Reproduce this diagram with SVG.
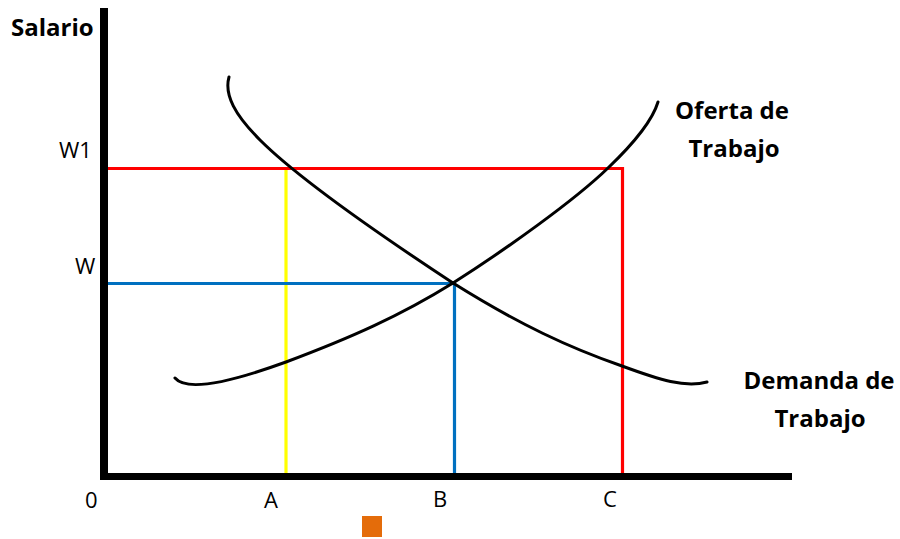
<svg xmlns="http://www.w3.org/2000/svg" width="900" height="539" viewBox="0 0 900 539">
<style>
.lbl{font-family:"Open Sans","Liberation Sans",sans-serif;font-size:22px;fill:#000}
.bold{font-family:"Open Sans","Liberation Sans",sans-serif;font-size:24px;font-weight:bold;fill:#000}
.curve{fill:none;stroke:#000;stroke-width:3;stroke-linecap:round}
.guide{fill:none;stroke-width:3.2}
</style>
<rect width="900" height="539" fill="#fff"/>
<g id="axes">
<rect x="100" y="8" width="8" height="472" fill="#000"/>
<rect x="100" y="473" width="692" height="7" fill="#000"/>
</g>
<g id="guides">
<path class="guide" stroke="#FF0000" d="M108,168.5 H622.5 V473"/>
<path class="guide" stroke="#FFFF00" d="M286,170 V473"/>
<path class="guide" stroke="#0070C0" d="M108,283.5 H454.5 V473"/>
</g>
<g id="supply">
<path class="curve" d="M175,378 C185,390 220,386 286,362 C350,338 400,316 453,283 C505,250 575,200 608,168 C630,147 652,122 658,102"/>
</g>
<g id="demand">
<path class="curve" d="M229,77 C224,95 235,115 260,140 C300,180 380,235 453,283 C520,325 570,348 622,366 C660,380 685,388 707,382"/>
</g>
<g id="labels">
<text class="bold" x="11" y="36">Salario</text>
<text class="lbl" x="59" y="158" font-size="25">W1</text>
<text class="lbl" x="75" y="274" font-size="24">W</text>
<text class="lbl" x="85" y="508">0</text>
<text class="lbl" x="264" y="508">A</text>
<text class="lbl" x="433" y="507">B</text>
<text class="lbl" x="603" y="507">C</text>
<text class="bold" x="732" y="119" text-anchor="middle">Oferta de</text>
<text class="bold" x="734" y="157" text-anchor="middle">Trabajo</text>
<text class="bold" x="819" y="389" text-anchor="middle">Demanda de</text>
<text class="bold" x="820" y="427" text-anchor="middle">Trabajo</text>
</g>
<rect id="marker" x="362" y="516" width="20" height="21" fill="#E46C0A"/>
</svg>
